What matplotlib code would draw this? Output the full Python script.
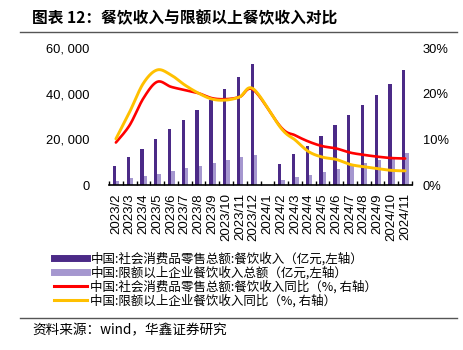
import numpy as np
import matplotlib.pyplot as plt
from matplotlib.lines import Line2D

plt.rcParams['font.family'] = ['Liberation Sans', 'Noto Sans CJK SC']

months = ["2023/2", "2023/3", "2023/4", "2023/5", "2023/6", "2023/7",
          "2023/8", "2023/9", "2023/10", "2023/11", "2023/12", "2024/1",
          "2024/2", "2024/3", "2024/4", "2024/5", "2024/6", "2024/7",
          "2024/8", "2024/9", "2024/10", "2024/11"]

# 社会消费品零售总额:餐饮收入 (亿元)
canyin = [8300, 12100, 15900, 20000, 24400, 28500, 32850, 37200, 41900,
          47400, 52900, np.nan, 9200, 13400, 17200, 21460, 26100, 30500,
          34900, 39400, 44400, 50200]
# 限额以上企业餐饮收入总额 (亿元)
xiane = [1900, 3200, 3900, 4800, 6100, 7300, 8300, 9600, 10950, 12100,
         13100, np.nan, 2200, 3500, 4500, 5700, 7150, 8300, 9500, 10950,
         12000, 13900]
# 同比 (%)
canyin_yoy = [9.3, 13.1, 19.0, 22.6, 21.5, 20.8, 20.1, 19.0, 18.8, 19.3,
              20.8, np.nan, 12.6, 10.9, 9.5, 8.5, 8.0, 7.1, 6.6, 6.2, 5.9, 5.8]
xiane_yoy = [10.1, 16.0, 22.3, 25.2, 24.1, 21.9, 20.1, 18.8, 18.6, 19.3,
             21.0, np.nan, 12.4, 9.9, 7.3, 6.1, 5.6, 4.5, 4.0, 3.6, 3.2, 3.1]

DARK = "#4B2A87"
LIGHT = "#A597CF"
RED = "#FF0000"
GOLD = "#FFC000"


def lissage(x, y, n=20):
    # courbe lissée façon Excel (Bezier, tension 1/6)
    x = np.asarray(x, float)
    y = np.asarray(y, float)
    ok = ~np.isnan(y)
    x, y = x[ok], y[ok]
    pts = np.column_stack([x, y])
    out = []
    for i in range(len(pts) - 1):
        p0 = pts[max(i - 1, 0)]
        p1 = pts[i]
        p2 = pts[i + 1]
        p3 = pts[min(i + 2, len(pts) - 1)]
        c1 = p1 + (p2 - p0) / 6
        c2 = p2 - (p3 - p1) / 6
        t = np.linspace(0, 1, n)[:, None]
        seg = ((1 - t) ** 3 * p1 + 3 * (1 - t) ** 2 * t * c1
               + 3 * (1 - t) * t ** 2 * c2 + t ** 3 * p2)
        out.append(seg if i == 0 else seg[1:])
    seg = np.vstack(out)
    return seg[:, 0], seg[:, 1]


fig = plt.figure(figsize=(4.63, 3.5), dpi=100)
ax = fig.add_axes([109 / 463, 165 / 350, 303 / 463, 137 / 350])
ax2 = ax.twinx()

x = np.arange(len(months))
ax.bar(x - 0.1, canyin, width=0.24, color=DARK, zorder=2)
ax.bar(x + 0.14, xiane, width=0.24, color=LIGHT, zorder=2)

xs, ys = lissage(x, canyin_yoy)
ax2.plot(xs, ys, color=RED, linewidth=1.9, solid_capstyle="round")
xs, ys = lissage(x, xiane_yoy)
ax2.plot(xs, ys, color=GOLD, linewidth=2.1, solid_capstyle="round")

ax.set_xlim(-0.5, len(months) - 0.5)
ax.set_ylim(0, 60000)
ax2.set_ylim(0, 30)

ax.set_yticks([0, 20000, 40000, 60000])
ax.set_yticklabels(["0", "20, 000", "40, 000", "60, 000"], fontsize=9.3)
ax2.set_yticks([0, 10, 20, 30])
ax2.set_yticklabels(["0%", "10%", "20%", "30%"], fontsize=9.3)

ax.set_xticks(x)
ax.set_xticklabels(months, rotation=90, fontsize=9.5, va="top")
ax.set_xticks(np.arange(-0.5, len(months)), minor=True)
ax.tick_params(axis="x", which="major", length=0, pad=6)
ax.tick_params(axis="x", which="minor", direction="in", length=3,
               width=1, color="black")
ax.tick_params(axis="y", length=0, pad=14)
ax2.tick_params(axis="y", length=0, pad=7.7)

for a in (ax, ax2):
    for s in ("top", "left", "right"):
        a.spines[s].set_visible(False)
ax2.spines["bottom"].set_visible(False)
ax.spines["bottom"].set_linewidth(1.2)

handles = [
    Line2D([], [], color=DARK, linewidth=5),
    Line2D([], [], color=LIGHT, linewidth=5),
    Line2D([], [], color=RED, linewidth=2.2),
    Line2D([], [], color=GOLD, linewidth=2.2),
]
labels = [
    "中国:社会消费品零售总额:餐饮收入（亿元,左轴）",
    "中国:限额以上企业餐饮收入总额（亿元,左轴）",
    "中国:社会消费品零售总额:餐饮收入同比（%, 右轴）",
    "中国:限额以上企业餐饮收入同比（%, 右轴）",
]
fig.legend(handles, labels, loc="upper left", bbox_to_anchor=(48 / 463, 1 - 246 / 350),
           frameon=False, handlelength=2.6, handletextpad=0.3,
           labelspacing=0.02, borderpad=0,
           prop={'family': ['Noto Sans CJK SC'], 'size': 9})

fig.text(32 / 463, 1 - 18 / 350, "图表 12：餐饮收入与限额以上餐饮收入对比",
         fontsize=11.3, fontweight="bold", va="center", ha="left",
         family=['Noto Sans CJK SC'])
fig.add_artist(Line2D([20 / 463, 457 / 463], [1 - 32 / 350] * 2,
                      color="#555555", linewidth=1))
fig.add_artist(Line2D([20 / 463, 457 / 463], [1 - 318 / 350] * 2,
                      color="#555555", linewidth=1))
fig.text(32 / 463, 1 - 330 / 350, "资料来源：wind，华鑫证券研究",
         fontsize=9.8, va="center", ha="left",
         family=['Noto Sans CJK SC', 'Liberation Sans'])

fig.savefig("out.png", dpi=100)
